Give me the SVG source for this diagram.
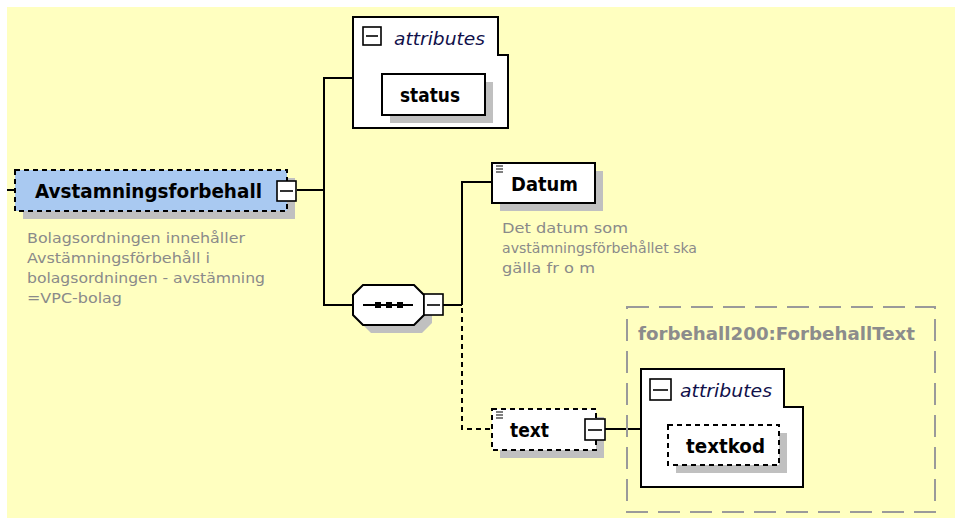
<svg xmlns="http://www.w3.org/2000/svg" width="955" height="518" viewBox="0 0 955 518">
<style>
.bg{fill:#ffffc0}
.ln{stroke:#000;stroke-width:2;fill:none}
.dl{stroke:#000;stroke-width:2;fill:none;stroke-dasharray:5 4}
.box{fill:#fff;stroke:#000;stroke-width:2}
.dbox{fill:#fff;stroke:#000;stroke-width:2;stroke-dasharray:5 4}
.sh{fill:#c0c0c0}
.t{font-family:"DejaVu Sans","Liberation Sans",sans-serif;font-weight:bold;font-size:19px;fill:#000}
.it{font-family:"DejaVu Sans","Liberation Sans",sans-serif;font-style:italic;font-size:17px;fill:#10104a}
.d{font-family:"DejaVu Sans","Liberation Sans",sans-serif;font-size:14px;fill:#8a8a8a}
.g{font-family:"DejaVu Sans","Liberation Sans",sans-serif;font-weight:bold;font-size:17px;fill:#8c8c8c}
.mb{fill:#fff;stroke:#000;stroke-width:1.6}
</style>
<rect class="bg" x="7" y="7" width="948" height="511"/>

<g id="connectors">
<line class="ln" x1="7" y1="190" x2="15" y2="190"/>
<line class="ln" x1="297" y1="190" x2="324" y2="190"/>
<polyline class="ln" points="353,78 324,78 324,305 353,305"/>
<line class="ln" x1="443" y1="305" x2="462" y2="305"/>
<polyline class="ln" points="462,305 462,182 492,182"/>
<polyline class="dl" points="462,308 462,429 492,429"/>
<line class="ln" x1="605" y1="429" x2="641" y2="429"/>
</g>

<g id="Avstamningsforbehall">
<rect class="sh" x="23" y="178" width="272" height="41"/>
<rect x="15" y="170" width="272" height="41" fill="#a9c9f1" stroke="#000" stroke-width="2" stroke-dasharray="5 4"/>
<text class="t" x="35" y="198" textLength="227" lengthAdjust="spacingAndGlyphs">Avstamningsforbehall</text>
<rect class="mb" x="277" y="181" width="19" height="20"/>
<line x1="280" y1="191" x2="293" y2="191" stroke="#000" stroke-width="1.6"/>
<text class="d" x="27" y="243" textLength="218" lengthAdjust="spacingAndGlyphs">Bolagsordningen innehåller</text>
<text class="d" x="27" y="263" textLength="183" lengthAdjust="spacingAndGlyphs">Avstämningsförbehåll i</text>
<text class="d" x="27" y="283" textLength="238" lengthAdjust="spacingAndGlyphs">bolagsordningen - avstämning</text>
<text class="d" x="27" y="303" textLength="95" lengthAdjust="spacingAndGlyphs">=VPC-bolag</text>
</g>

<g id="attributes1">
<path class="box" d="M353,17 H498 V55 H508 V128 H353 Z"/>
<rect class="mb" x="363" y="27" width="18" height="18"/>
<line x1="366" y1="36" x2="378" y2="36" stroke="#000" stroke-width="1.6"/>
<text class="it" x="394" y="45" textLength="91" lengthAdjust="spacingAndGlyphs">attributes</text>
</g>
<g id="status">
<rect class="sh" x="390" y="82" width="103" height="41"/>
<rect class="box" x="382" y="74" width="103" height="41"/>
<text class="t" x="400" y="102" textLength="60" lengthAdjust="spacingAndGlyphs">status</text>
</g>

<g id="sequence">
<path class="sh" d="M371,293 H422 L432,303 V323 L422,333 H371 L361,323 V303 Z"/>
<path class="box" d="M363,285 H414 L424,295 V315 L414,325 H363 L353,315 V295 Z"/>
<line x1="363" y1="305" x2="413" y2="305" stroke="#000" stroke-width="2"/>
<rect x="375" y="302" width="6" height="6" fill="#000"/>
<rect x="386" y="302" width="6" height="6" fill="#000"/>
<rect x="397" y="302" width="6" height="6" fill="#000"/>
<rect class="mb" x="424" y="294" width="19" height="21"/>
<line x1="427" y1="305" x2="440" y2="305" stroke="#000" stroke-width="1.6"/>
</g>

<g id="Datum">
<rect class="sh" x="500" y="171" width="103" height="40"/>
<rect class="box" x="492" y="163" width="103" height="40"/>
<path d="M496,166 H503 M496,169 H503 M496,172 H503" stroke="#000" stroke-width="1.2"/>
<text class="t" x="511" y="191" textLength="67" lengthAdjust="spacingAndGlyphs">Datum</text>
<text class="d" x="502" y="233" textLength="126" lengthAdjust="spacingAndGlyphs">Det datum som</text>
<text class="d" x="502" y="253" textLength="195" lengthAdjust="spacingAndGlyphs">avstämningsförbehållet ska</text>
<text class="d" x="502" y="273" textLength="93" lengthAdjust="spacingAndGlyphs">gälla fr o m</text>
</g>

<g id="text">
<rect class="sh" x="500" y="417" width="104" height="41"/>
<rect class="dbox" x="492" y="409" width="104" height="41"/>
<path d="M496,412 H503 M496,415 H503 M496,418 H503" stroke="#000" stroke-width="1.2"/>
<text class="t" x="510" y="437" textLength="39" lengthAdjust="spacingAndGlyphs">text</text>
<rect class="mb" x="585" y="419" width="20" height="21"/>
<line x1="588" y1="430" x2="602" y2="430" stroke="#000" stroke-width="1.6"/>
</g>

<g id="ForbehallText">
<rect x="627" y="307" width="308" height="205" fill="none" stroke="#9a9a9a" stroke-width="2" stroke-dasharray="22 10"/>
<text class="g" x="638" y="340" textLength="277" lengthAdjust="spacingAndGlyphs">forbehall200:ForbehallText</text>
</g>
<g id="attributes2">
<path class="box" d="M641,369 H784 V407 H803 V487 H641 Z"/>
<rect class="mb" x="650" y="379" width="21" height="21"/>
<line x1="653" y1="390" x2="668" y2="390" stroke="#000" stroke-width="1.6"/>
<text class="it" x="680" y="397" textLength="92" lengthAdjust="spacingAndGlyphs">attributes</text>
</g>
<g id="textkod">
<rect class="sh" x="676" y="433" width="111" height="40"/>
<rect class="dbox" x="668" y="425" width="111" height="40"/>
<text class="t" x="686" y="453" textLength="79" lengthAdjust="spacingAndGlyphs">textkod</text>
</g>
</svg>
